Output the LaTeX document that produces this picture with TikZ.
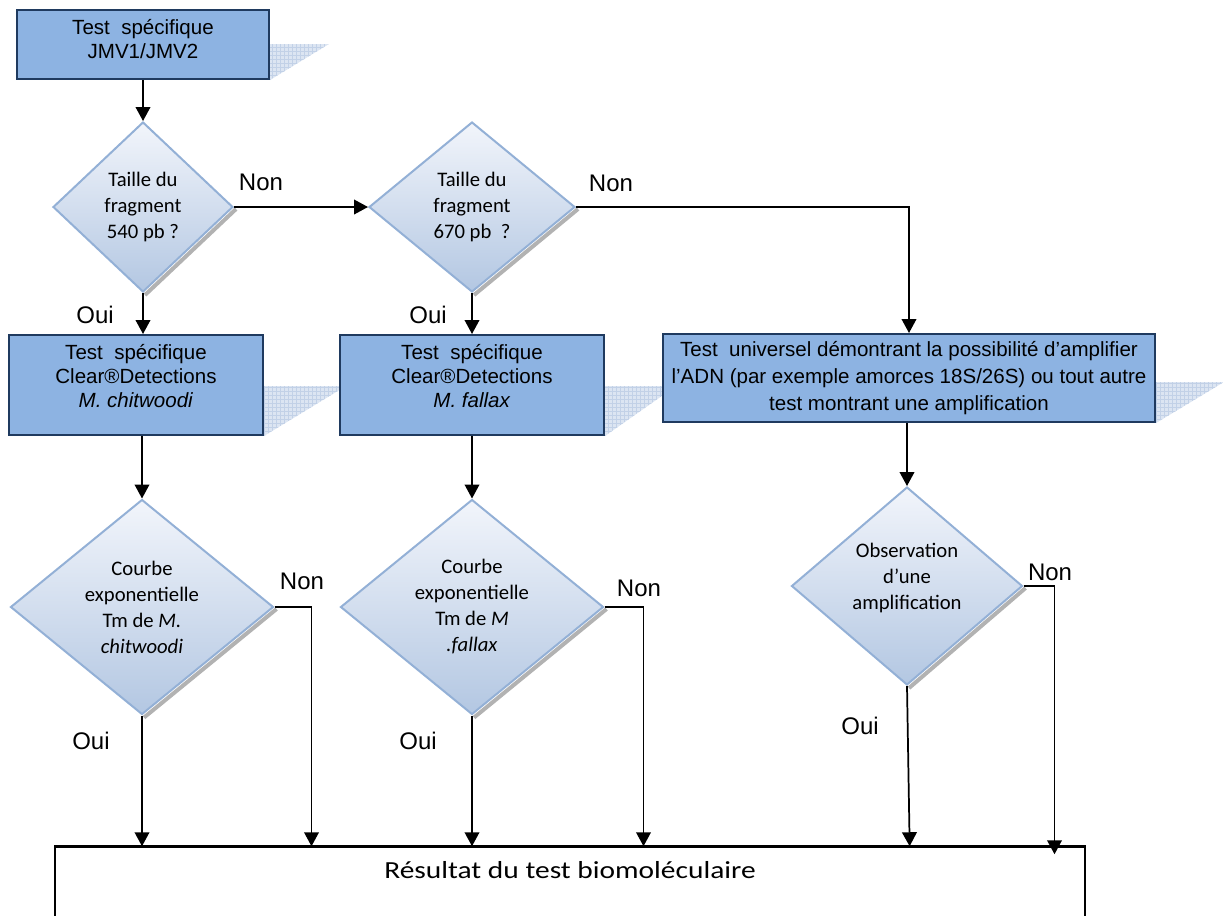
\documentclass[tikz,border=0pt]{standalone}
\usepackage{fontspec}
\setmainfont{Liberation Sans}
\newfontfamily\calib{Carlito}
\newfontfamily\resfont[FakeStretch=1.2]{Carlito}
\usetikzlibrary{shapes.geometric,arrows.meta,patterns,backgrounds,positioning}
\definecolor{boxblue}{HTML}{8DB3E2}
\definecolor{boxline}{HTML}{1F3A5F}
\definecolor{diatop}{HTML}{F2F5FB}
\definecolor{diabot}{HTML}{B3C7E2}
\definecolor{dialine}{HTML}{93B0D6}
\definecolor{shadefill}{HTML}{DCE5F2}
\definecolor{shadegrid}{HTML}{C2D1E7}
\begin{document}
\begin{tikzpicture}[x=0.75pt,y=-0.75pt,
  testbox/.style={draw=boxline,line width=1.5pt,fill=boxblue,inner sep=0pt,
    align=center,font=\fontsize{15.4}{18}\selectfont},
  question/.style={diamond,draw=dialine,line width=1.5pt,top color=diatop,
    bottom color=diabot,inner sep=0pt,align=center,
    font=\calib\fontsize{15.5}{19.5}\selectfont},
  answer/.style={inner sep=0pt,font=\fontsize{18}{20}\selectfont},
  resbox/.style={draw,line width=0.9pt,inner sep=0pt},
  arr/.style={line width=1.3pt,-{Triangle[length=10.5pt,width=11pt]}},
  boxshade/.style={fill=shadefill,postaction={pattern=grid,pattern color=shadegrid}},
  dshadow/.style={line width=3pt,gray!60}]
\useasboundingbox (0,0) rectangle (1223,915);

\node[testbox,minimum width=189pt,minimum height=51.75pt,text depth=9pt] (jmv) at (143,44.5) {Test\ \ spécifique\\JMV1/JMV2};
\node[question,minimum width=135pt,minimum height=127.5pt] (taille1) at (143,207) {Taille du\\fragment\\540 pb ?};
\node[question,minimum width=154.5pt,minimum height=127.5pt] (taille2) at (472,207) {Taille du\\fragment\\670 pb\ \ ?};
\node[testbox,minimum width=190.5pt,minimum height=75pt,text depth=13.5pt] (chit) at (136,385) {Test\ \ spécifique\\Clear®Detections\\\textit{M. chitwoodi}};
\node[testbox,minimum width=198pt,minimum height=75pt,text depth=13.5pt] (fal) at (472,385) {Test\ \ spécifique\\Clear®Detections\\\textit{M. fallax}};
\node[testbox,minimum width=369pt,minimum height=66pt,font=\fontsize{15.4}{20.25}\selectfont] (univ) at (909,378) {Test\ \ universel démontrant la possibilité d’amplifier\\l’ADN (par exemple amorces 18S/26S) ou tout autre\\test montrant une amplification};
\node[question,minimum width=197.25pt,minimum height=161.25pt] (courbe1) at (142,607) {Courbe\\exponentielle\\Tm de \textit{M.}\\\textit{chitwoodi}};
\node[question,minimum width=197.25pt,minimum height=161.25pt] (courbe2) at (472,607) {Courbe\\exponentielle\\Tm de \textit{M}\\\textit{.fallax}};
\node[question,minimum width=173.25pt,minimum height=148.5pt,text depth=14pt] (obs) at (907,586) {Observation\\d’une\\amplification};
\node[resbox,minimum width=772.5pt,minimum height=62.5pt] (res) at (570,888.5) {};
\node[inner sep=0pt,font=\resfont\fontsize{18.4}{22}\selectfont] (restext) at (570,870) {Résultat du test biomoléculaire};

\node[answer] (non1) at (261,182) {Non};
\node[answer] (non2) at (611,183) {Non};
\node[answer] (oui1) at (95,315) {Oui};
\node[answer] (oui2) at (428,315) {Oui};
\node[answer] (non3) at (302,581) {Non};
\node[answer] (non4) at (639,588) {Non};
\node[answer] (non5) at (1050,572) {Non};
\node[answer] (oui3) at (91,741) {Oui};
\node[answer] (oui4) at (418,741) {Oui};
\node[answer] (oui5) at (860,726) {Oui};

\begin{scope}[on background layer]
\foreach \n/\h/\w in {jmv/36/59,chit/50/82,fal/50/71,univ/41/68}
  \fill[boxshade] (\n.south east) -- ++(0,-\h) -- ++(\w,0) -- cycle;
\foreach \d in {taille1,taille2,courbe1,courbe2,obs}
  \draw[dshadow] ([shift={(2,2)}]\d.east) -- ([shift={(2,2)}]\d.south);
\end{scope}
\draw[line width=2pt] (res.north west) -- (res.north east);

\draw[arr] (jmv.south) -- (taille1.north);
\draw[arr] (taille1.east) -- (taille2.west);
\draw[arr] (taille2.east) -| (univ.north);
\draw[arr] (taille1.south) -- (taille1.south |- chit.north);
\draw[arr] (taille2.south) -- (fal.north);
\draw[arr] (chit.south -| courbe1.north) -- (courbe1.north);
\draw[arr] (fal.south) -- (courbe2.north);
\draw[arr] (univ.south -| obs.north) -- (obs.north);
\draw[arr] (courbe1.south) -- (courbe1.south |- res.north);
\draw[arr] (courbe1.east) -- ++(37,0) coordinate (c1) -- (c1 |- res.north);
\draw[arr] (courbe2.south) -- (courbe2.south |- res.north);
\draw[arr] (courbe2.east) -- ++(39,0) coordinate (c2) -- (c2 |- res.north);
\draw[arr] (obs.south) -- ([xshift=2pt]obs.south |- res.north);
\draw[arr] (obs.east) -- ++(31,0) coordinate (c5) -- ([yshift=-6pt]c5 |- res.north);
\end{tikzpicture}
\end{document}
